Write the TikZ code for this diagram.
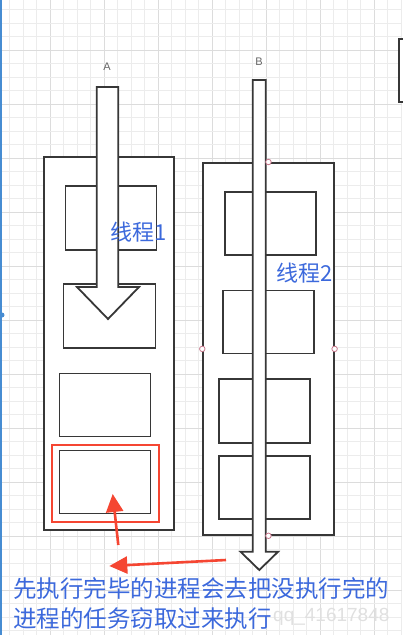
\documentclass[tikz,border=0pt]{standalone}
\usepackage{fontspec}
\newfontfamily\cjk{Noto Sans CJK SC}
\setsansfont{Liberation Sans}
\usetikzlibrary{arrows.meta}
\definecolor{lineg}{RGB}{55,55,55}
\definecolor{gridmin}{RGB}{236,236,236}
\definecolor{gridmaj}{RGB}{220,220,220}
\definecolor{txtblue}{RGB}{60,105,220}
\definecolor{annred}{RGB}{245,70,50}
\definecolor{handle}{RGB}{200,120,140}
\definecolor{edgeblue}{RGB}{70,140,210}
\tikzset{
  box/.style={draw=lineg, line width=1.8pt, fill=white, inner sep=0pt, anchor=north west},
  blockarrow/.style={draw=lineg, line width=1.8pt, fill=white, line join=miter},
  redbox/.style={draw=annred, line width=2.4pt, inner sep=0pt, anchor=north west},
  redarrow/.style={draw=annred, fill=annred, line width=2.6pt, -{Triangle[length=18pt,width=17pt]}},
  handlept/.style={circle, draw=handle, fill=white, line width=0.8pt, minimum size=5.5pt, inner sep=0pt},
  lbl/.style={text=txtblue, font=\cjk\fontsize{22}{26}\selectfont, inner sep=0pt, anchor=west},
  note/.style={text=txtblue, font=\cjk\fontsize{23.5}{30}\selectfont, inner sep=0pt, anchor=west},
  letter/.style={text=black!60, font=\sffamily\fontsize{11}{12}\selectfont, inner sep=0pt}
}
\begin{document}
\begin{tikzpicture}[x=1pt,y=-1pt]
\useasboundingbox (0,0) rectangle (402,635);
\fill[white] (0,0) rectangle (402,635);
% grid
\foreach \k in {0,...,29} {
  \pgfmathsetmacro{\p}{9.5+13.5*\k}
  \pgfmathtruncatemacro{\m}{mod(\k,4)}
  \ifnum\m=3
    \draw[gridmaj, line width=0.9pt] (\p,0) -- (\p,635);
  \else
    \draw[gridmin, line width=0.8pt] (\p,0) -- (\p,635);
  \fi
}
\foreach \k in {0,...,46} {
  \pgfmathsetmacro{\p}{9.5+13.5*\k}
  \pgfmathtruncatemacro{\m}{mod(\k,4)}
  \ifnum\m=3
    \draw[gridmaj, line width=0.9pt] (0,\p) -- (402,\p);
  \else
    \draw[gridmin, line width=0.8pt] (0,\p) -- (402,\p);
  \fi
}
% editor edges
\draw[edgeblue, line width=2.5pt] (1,0) -- (1,635);
\fill[edgeblue] (2,315) circle (2.5pt);
\node[box, minimum width=10pt, minimum height=63pt] (side) at (398,38) {};

% column A
\node[letter] (labA) at (107,67) {A};
\node[box, minimum width=130pt, minimum height=373pt] (outA) at (43,156) {};
\node[box, minimum width=91pt, minimum height=64pt] (a1) at (64.5,185) {};
\node[box, minimum width=92pt, minimum height=64pt] (a2) at (62.5,283) {};
\node[box, minimum width=91pt, minimum height=63pt] (a3) at (58.5,372.5) {};
\node[box, minimum width=91pt, minimum height=63pt] (a4) at (58.5,449.5) {};
\draw[blockarrow] (96.7,87) -- (96.7,287) -- (77,287) -- (108,319) -- (139,287) -- (118.3,287) -- (118.3,87) -- cycle;
\node[redbox, minimum width=106.5pt, minimum height=77.5pt] (sel) at (51,443.5) {};

% column B
\node[letter] (labB) at (259,62) {B};
\node[box, minimum width=130.5pt, minimum height=372pt] (outB) at (202.3,162) {};
\node[box, minimum width=91pt, minimum height=63pt] (b1) at (224.3,191) {};
\node[box, minimum width=91pt, minimum height=63pt] (b2) at (222.3,289.5) {};
\node[box, minimum width=91pt, minimum height=64pt] (b3) at (217.7,377.7) {};
\node[box, minimum width=91pt, minimum height=63pt] (b4) at (217.7,455) {};
\draw[blockarrow] (252.8,80) -- (252.8,551.7) -- (240.5,551.7) -- (259.3,570) -- (278.1,551.7) -- (265.8,551.7) -- (265.8,80) -- cycle;
\node[handlept] (hT) at (outB.north) {};
\node[handlept] (hL) at (outB.west) {};
\node[handlept] (hR) at (outB.east) {};
\node[handlept] (hB) at (outB.south) {};

% labels
\node[lbl] (t1) at (110,232) {线程1};
\node[lbl] (t2) at (276,273.5) {线程2};
\node[text=black!12, font=\sffamily\fontsize{19}{22}\selectfont, inner sep=0pt, anchor=west] (wm) at (273,617) {qq\_41617848};
\node[note] (n1) at (13,588.5) {先执行完毕的进程会去把没执行完的};
\node[note] (n2) at (13,618.5) {进程的任务窃取过来执行};

% red annotation arrows
\coordinate (r1s) at (118.3,545);
\coordinate (r1e) at (112.7,494);
\coordinate (r2s) at (226,560);
\coordinate (r2e) at (109.3,566);
\draw[redarrow] (r1s) -- (r1e);
\draw[redarrow] (r2s) -- (r2e);
\end{tikzpicture}
\end{document}
